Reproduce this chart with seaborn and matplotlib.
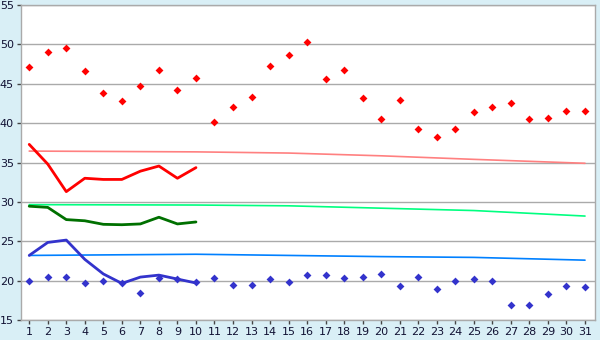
import matplotlib
matplotlib.use("Agg")
import matplotlib.pyplot as plt
import seaborn as sns
import pandas as pd

days = list(range(1, 32))
red_points = [47.1, 49.0, 49.6, 46.6, 43.8, 42.8, 44.7, 46.7, 44.2, 45.7,
              40.2, 42.1, 43.3, 47.3, 48.7, 50.3, 45.6, 46.7, 43.2, 40.5,
              42.9, 39.2, 38.2, 39.3, 41.4, 42.0, 42.6, 40.5, 40.7, 41.6, 41.5]
blue_points = [19.9, 20.4, 20.4, 19.7, 19.9, 19.7, 18.4, 20.3, 20.2, 19.8,
               20.3, 19.4, 19.5, 20.2, 19.8, 20.7, 20.7, 20.3, 20.4, 20.9,
               19.3, 20.4, 18.9, 19.9, 20.2, 19.9, 16.9, 16.9, 18.3, 19.3, 19.15]

line_days = list(range(1, 11))
red_line = [37.3, 34.8, 31.3, 33.0, 32.85, 32.85, 33.9, 34.55, 33.0, 34.35]
green_line = [29.45, 29.3, 27.75, 27.6, 27.15, 27.1, 27.2, 28.05, 27.2, 27.45]
blue_line = [23.2, 24.85, 25.15, 22.7, 20.85, 19.65, 20.45, 20.7, 20.2, 19.7]

trend_days = [1, 10, 15, 20, 25, 31]
red_trend = [36.45, 36.35, 36.2, 35.85, 35.4, 34.9]
green_trend = [29.65, 29.6, 29.5, 29.2, 28.9, 28.2]
blue_trend = [23.2, 23.35, 23.2, 23.05, 22.95, 22.6]

bg = "#d9eff6"
sns.set_theme(style="white")
plt.rcParams['font.family'] = ['DejaVu Sans']

fig = plt.figure(figsize=(6, 3.4), dpi=100, facecolor=bg)
ax = fig.add_axes([0.0345, 0.0588, 0.9572, 0.9265])
ax.set_facecolor("white")

trend_df = pd.DataFrame({"day": trend_days, "r": red_trend, "g": green_trend, "b": blue_trend})
sns.lineplot(data=trend_df, x="day", y="r", color="#ff8080", lw=1.2, ax=ax)
sns.lineplot(data=trend_df, x="day", y="g", color="#00ff80", lw=1.2, ax=ax)
sns.lineplot(data=trend_df, x="day", y="b", color="#0080ff", lw=1.2, ax=ax)

ldf = pd.DataFrame({"day": line_days, "r": red_line, "g": green_line, "b": blue_line})
sns.lineplot(data=ldf, x="day", y="r", color="#ff0000", lw=2, ax=ax)
sns.lineplot(data=ldf, x="day", y="g", color="#007000", lw=2, ax=ax)
sns.lineplot(data=ldf, x="day", y="b", color="#3333cc", lw=2, ax=ax)

pdf = pd.DataFrame({"day": days, "r": red_points, "b": blue_points})
sns.scatterplot(data=pdf, x="day", y="r", color="#ff0000", marker="D", s=16, linewidth=0, ax=ax, zorder=5)
sns.scatterplot(data=pdf, x="day", y="b", color="#3333cc", marker="D", s=16, linewidth=0, ax=ax, zorder=5)

ax.set_xlim(0.54, 31.54)
ax.set_ylim(15, 55)
ax.set_xticks(days)
ax.set_yticks(range(15, 56, 5))
ax.set_xlabel("")
ax.set_ylabel("")
ax.yaxis.grid(True, color="#aaaaaa", lw=1)
ax.set_axisbelow(True)
for s in ax.spines.values():
    s.set_color("#aaaaaa")
    s.set_linewidth(1)
ax.tick_params(axis="both", which="both", length=3, width=1, color="#444444",
               labelsize=8, labelcolor="#111133", pad=2, direction="out")
ax.tick_params(axis="x", bottom=True)
ax.tick_params(axis="y", left=True)

fig.savefig("out.png", dpi=100, facecolor=bg)
